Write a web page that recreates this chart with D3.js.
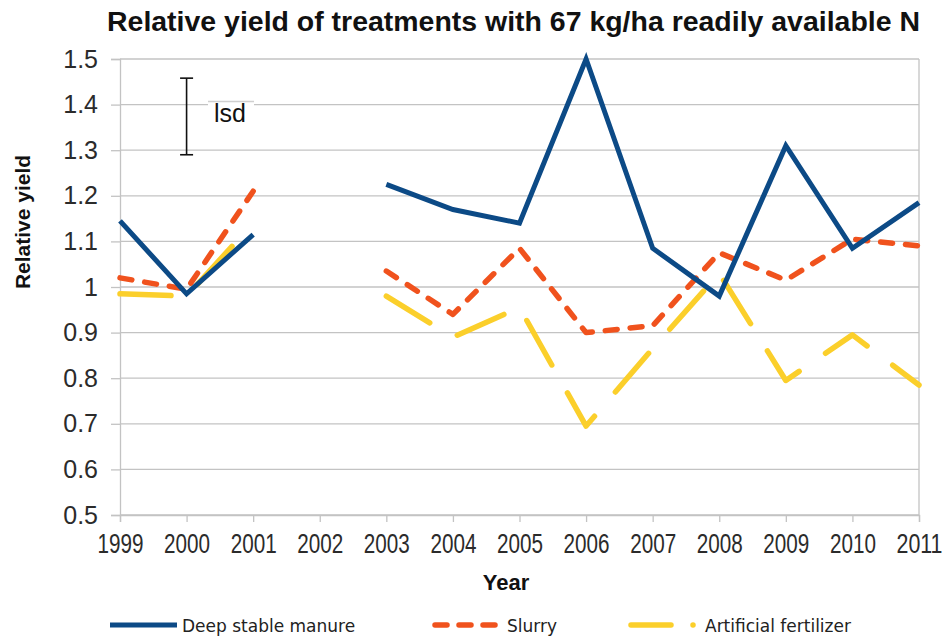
<!DOCTYPE html>
<html>
<head>
<meta charset="utf-8">
<script src="https://cdn.jsdelivr.net/npm/d3@7/dist/d3.min.js"></script>
<style>
  html, body { margin: 0; padding: 0; background: #fff; }
  svg { display: block; }
</style>
</head>
<body>
<svg id="chart" width="946" height="637"></svg>
<script>
// ---- data ----
const years = [1999, 2000, 2001, 2002, 2003, 2004, 2005, 2006, 2007, 2008, 2009, 2010, 2011];
const deepStableManure = [1.145, 0.985, 1.115, null, 1.225, 1.17, 1.14, 1.5, 1.085, 0.98, 1.31, 1.085, 1.185];
const slurry = [1.02, 0.995, 1.21, null, 1.035, 0.94, 1.085, 0.90, 0.915, 1.075, 1.015, 1.105, 1.09];
const artificialFertilizer = [0.985, 0.98, 1.14, null, 0.98, 0.89, 0.955, 0.695, 0.865, 1.03, 0.795, 0.895, 0.785];
const yTicks = [0.5, 0.6, 0.7, 0.8, 0.9, 1.0, 1.1, 1.2, 1.3, 1.4, 1.5];
const yTickLabels = ["0.5", "0.6", "0.7", "0.8", "0.9", "1", "1.1", "1.2", "1.3", "1.4", "1.5"];
const lsdYear = 2000;
const lsdRange = [1.29, 1.458];
const seriesNames = ["Deep stable manure", "Slurry", "Artificial fertilizer"];
const titleText = "Relative yield of treatments with 67 kg/ha readily available N";

(function () {
// ---- layout ----
const svg = d3.select("#chart");
const pLeft = 120, pRight = 919, pTop = 59, pBottom = 515;
const x = d3.scaleLinear().domain([1999, 2011]).range([pLeft, pRight]);
const y = d3.scaleLinear().domain([0.5, 1.5]).range([pBottom, pTop]);
const gridColor = "#c3c3c3";
const textColor = "#2b2b2b";

// title
svg.append("text")
  .attr("x", 513.5).attr("y", 31)
  .attr("text-anchor", "middle")
  .attr("font-family", "Liberation Sans, Arial, sans-serif")
  .attr("font-weight", "bold").attr("font-size", 27)
  .attr("textLength", 813).attr("lengthAdjust", "spacingAndGlyphs")
  .attr("fill", "#111")
  .text(titleText);

// gridlines
svg.append("g").selectAll("line").data(yTicks).join("line")
  .attr("x1", pLeft).attr("x2", pRight)
  .attr("y1", d => y(d)).attr("y2", d => y(d))
  .attr("stroke", gridColor).attr("stroke-width", 1.3);

// right border
svg.append("line").attr("x1", pRight).attr("x2", pRight).attr("y1", pTop).attr("y2", pBottom)
  .attr("stroke", gridColor).attr("stroke-width", 1.3);

// y axis
const yAxis = d3.axisLeft(y).tickValues(yTicks)
  .tickFormat((d, i) => yTickLabels[i]).tickSize(9).tickPadding(13);
const gy = svg.append("g").attr("transform", `translate(${pLeft},0)`).call(yAxis);
gy.select(".domain").attr("stroke", gridColor).attr("stroke-width", 1.3);
gy.selectAll(".tick line").attr("stroke", gridColor).attr("stroke-width", 1.3);
gy.selectAll(".tick text")
  .attr("font-family", "Liberation Sans, Arial, sans-serif")
  .attr("font-size", 25).attr("fill", textColor);

// x axis
const xAxis = d3.axisBottom(x).tickValues(years).tickFormat(d3.format("d")).tickSize(7).tickPadding(12);
const gx = svg.append("g").attr("transform", `translate(0,${pBottom})`).call(xAxis);
gx.select(".domain").attr("stroke", gridColor).attr("stroke-width", 1.3);
gx.selectAll(".tick line").attr("stroke", gridColor).attr("stroke-width", 1.3);
gx.selectAll(".tick text")
  .attr("font-family", "Liberation Sans, Arial, sans-serif")
  .attr("font-size", 27).attr("fill", textColor)
  .attr("textLength", 46).attr("lengthAdjust", "spacingAndGlyphs");

// axis titles
svg.append("text")
  .attr("transform", "translate(30,222) rotate(-90)")
  .attr("text-anchor", "middle")
  .attr("font-family", "Liberation Sans, Arial, sans-serif")
  .attr("font-weight", "bold").attr("font-size", 21)
  .attr("fill", "#111")
  .text("Relative yield");
svg.append("text")
  .attr("x", 506).attr("y", 590)
  .attr("text-anchor", "middle")
  .attr("font-family", "Liberation Sans, Arial, sans-serif")
  .attr("font-weight", "bold").attr("font-size", 22)
  .attr("fill", "#111")
  .text("Year");

// series
const series = [
  { name: seriesNames[0], values: deepStableManure, color: "#0c4a86", dash: null, width: 5, cap: "butt", join: "miter" },
  { name: seriesNames[1], values: slurry, color: "#f0521d", dash: "12,13", width: 5.5, cap: "round", join: "round" },
  { name: seriesNames[2], values: artificialFertilizer, color: "#fbcf2b", dash: "51,32", width: 5.5, cap: "round", join: "round" }
];
const line = d3.line()
  .defined(d => d.v !== null)
  .x(d => x(d.year)).y(d => y(d.v));

const drawOrder = [2, 1, 0];
drawOrder.forEach(i => {
  const s = series[i];
  svg.append("path")
    .datum(years.map((yr, j) => ({ year: yr, v: s.values[j] })))
    .attr("d", line)
    .attr("fill", "none")
    .attr("stroke", s.color)
    .attr("stroke-width", s.width)
    .attr("stroke-linecap", s.cap)
    .attr("stroke-linejoin", s.join)
    .attr("stroke-dasharray", s.dash);
});

// lsd bar
const lx = x(lsdYear);
const lsd = svg.append("g").attr("stroke", "#111").attr("stroke-width", 1.6);
lsd.append("line").attr("x1", lx).attr("x2", lx).attr("y1", y(lsdRange[1])).attr("y2", y(lsdRange[0]));
lsd.append("line").attr("x1", lx - 6.5).attr("x2", lx + 6.5).attr("y1", y(lsdRange[1])).attr("y2", y(lsdRange[1]));
lsd.append("line").attr("x1", lx - 6.5).attr("x2", lx + 6.5).attr("y1", y(lsdRange[0])).attr("y2", y(lsdRange[0]));
svg.append("rect").attr("x", 208).attr("y", 102).attr("width", 46).attr("height", 26).attr("fill", "#fff");
svg.append("line").attr("x1", 208).attr("x2", 254).attr("y1", 101.5).attr("y2", 101.5)
  .attr("stroke", "#d0d0d0").attr("stroke-width", 1.3);
svg.append("text").attr("x", 214).attr("y", 122)
  .attr("font-family", "Liberation Sans, Arial, sans-serif")
  .attr("font-size", 25).attr("fill", "#111").text("lsd");

// legend
const legY = 625;
const leg = svg.append("g");
leg.append("line").attr("x1", 110).attr("x2", 177).attr("y1", legY).attr("y2", legY)
  .attr("stroke", series[0].color).attr("stroke-width", 5);
leg.append("text").attr("x", 182).attr("y", legY + 7)
  .attr("font-family", "DejaVu Sans, Verdana, sans-serif").attr("font-size", 17).attr("fill", "#222")
  .text(seriesNames[0]);
leg.append("line").attr("x1", 435).attr("x2", 495).attr("y1", legY).attr("y2", legY)
  .attr("stroke", series[1].color).attr("stroke-width", 5.5).attr("stroke-linecap", "round")
  .attr("stroke-dasharray", "12,12");
leg.append("text").attr("x", 507).attr("y", legY + 7)
  .attr("font-family", "DejaVu Sans, Verdana, sans-serif").attr("font-size", 17).attr("fill", "#222")
  .text(seriesNames[1]);
leg.append("line").attr("x1", 631).attr("x2", 694).attr("y1", legY).attr("y2", legY)
  .attr("stroke", series[2].color).attr("stroke-width", 5.5).attr("stroke-linecap", "round")
  .attr("stroke-dasharray", "40,22,0.01,40");
leg.append("text").attr("x", 705).attr("y", legY + 7)
  .attr("font-family", "DejaVu Sans, Verdana, sans-serif").attr("font-size", 17).attr("fill", "#222")
  .text(seriesNames[2]);
})();
</script>
</body>
</html>
